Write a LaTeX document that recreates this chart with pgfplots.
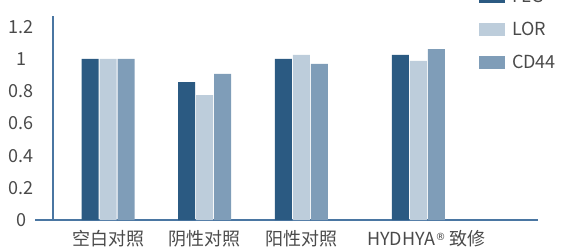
\documentclass[border=0pt]{standalone}
\usepackage{fontspec}
\setmainfont{Noto Sans CJK SC}
\newfontfamily\dv{DejaVu Sans}
\usepackage{pgfplots}
\pgfplotsset{compat=1.18}
\definecolor{flg}{HTML}{2B5A82}
\definecolor{lor}{HTML}{BDCDDB}
\definecolor{cd}{HTML}{7F9DB8}
\definecolor{axl}{HTML}{4A76A2}
\definecolor{txt}{HTML}{4A4A4A}
\begin{document}
\begin{tikzpicture}
\begin{axis}[
 at={(53pt,27pt)}, anchor=south west, scale only axis, width=485pt, height=204pt,
 xmin=-0.569, xmax=4.447, ymin=0, ymax=1.267,
 axis x line=bottom, axis y line=left, axis line style={axl, line width=1.2pt, -},
 ytick={0,0.2,0.4,0.6,0.8,1,1.2}, yticklabels={0,0.2,0.4,0.6,0.8,1,1.2},
 major tick length=0pt,
 xtick={0,1,2,3.21}, xticklabels={空白对照,阴性对照,阳性对照,\hspace*{16pt}HYDHYA\raisebox{5pt}{\dv\fontsize{10}{10}\selectfont ®} 致修},
 ybar=1pt, bar width=17pt,
 ticklabel style={font=\fontsize{18}{20}\selectfont, text=txt},
 yticklabel style={anchor=center, xshift=-32pt},
 xticklabel style={anchor=center, yshift=-19pt},
 clip=false,
 legend image code/.code={\fill[#1] (0pt,-6.5pt) rectangle (26pt,6.5pt);},
 legend style={draw=none, fill=none, at={(0.878,1.142)}, anchor=north west, font=\fontsize{18}{20}\selectfont, text=txt, row sep=14pt, inner sep=0pt,
   /tikz/every odd column/.append style={column sep=5pt}},
 legend cell align=left,
]
\addplot[fill=flg, draw=none] coordinates {(0,1.0) (1,0.857) (2,1.0) (3.21,1.025)};
\addplot[fill=lor, draw=none] coordinates {(0,1.0) (1,0.776) (2,1.025) (3.21,0.988)};
\addplot[fill=cd, draw=none] coordinates {(0,1.0) (1,0.907) (2,0.969) (3.21,1.062)};
\legend{FLG,LOR,CD44}
\draw[axl, line width=1.2pt] (axis cs:-0.755,0) -- (axis cs:-0.569,0);
\end{axis}
\pgfresetboundingbox
\path[use as bounding box] (0,0) rectangle (563pt,247pt);
\end{tikzpicture}
\end{document}
